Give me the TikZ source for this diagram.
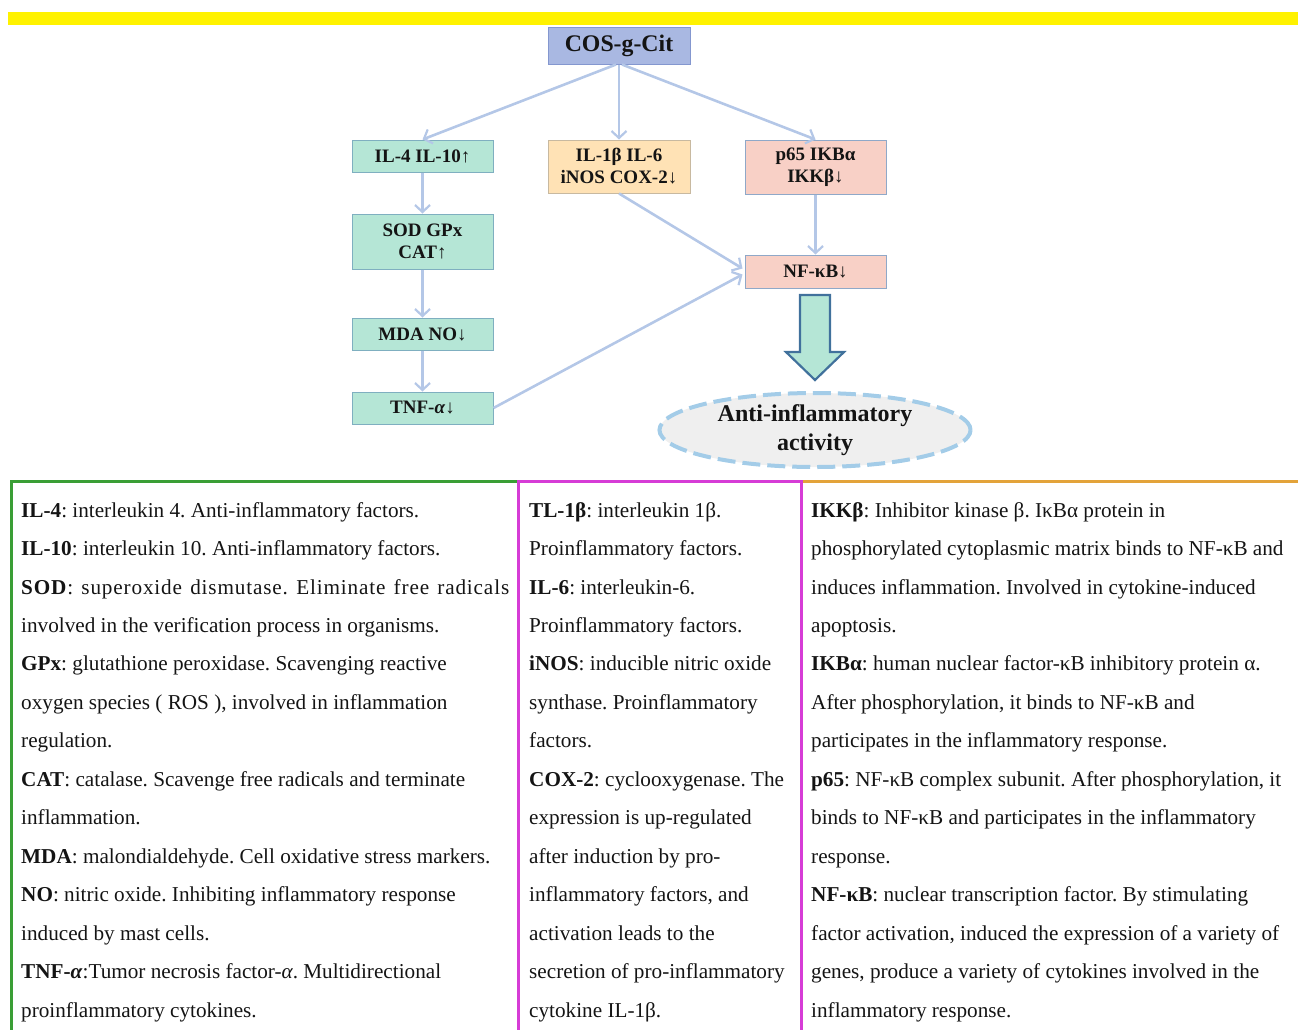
\documentclass[tikz,border=0pt]{standalone}
\usepackage{fontspec}
\setmainfont{Liberation Serif}
\usetikzlibrary{arrows.meta,shapes.geometric,calc}
\definecolor{arrowblue}{HTML}{B4C7E7}
\definecolor{cosfill}{HTML}{A9B8E2}
\definecolor{cosdraw}{HTML}{8497CF}
\definecolor{mint}{HTML}{B5E6D6}
\definecolor{mintdraw}{HTML}{7FAFC0}
\definecolor{peach}{HTML}{FFE2B5}
\definecolor{peachdraw}{HTML}{C8B9A0}
\definecolor{pinkfill}{HTML}{F8D0C6}
\definecolor{pinkdraw}{HTML}{8FA8C8}
\definecolor{bigarrowdraw}{HTML}{41719C}
\definecolor{ellfill}{HTML}{EFEFEF}
\definecolor{elldraw}{HTML}{A3CCE8}
\definecolor{pgreen}{HTML}{3A9E35}
\definecolor{pmagenta}{HTML}{D63CD6}
\definecolor{porange}{HTML}{E3A33A}
\definecolor{ink}{HTML}{141414}
\frenchspacing
\begin{document}
\begin{tikzpicture}[x=1pt,y=-1pt,
  boxbase/.style={draw, line width=1pt, inner sep=0pt, align=center,
     font=\fontsize{19}{22}\selectfont\bfseries, text=ink},
  greenbox/.style={boxbase, fill=mint, draw=mintdraw, minimum width=141pt},
  link/.style={draw=arrowblue, line width=2.6pt, -{Straight Barb[length=7pt,width=15pt,line width=2.2pt]}},
  txt/.style={anchor=base west, inner sep=0pt, font=\fontsize{21.2}{24}\selectfont, text=ink},
  panel/.style={line width=3pt}
]
\useasboundingbox (0,0) rectangle (1298,1029);
% yellow bar
\fill[yellow] (8,12) rectangle (1298,25);

% boxes
\node[boxbase, fill=cosfill, draw=cosdraw, minimum width=142pt, minimum height=37pt,
      font=\fontsize{23.8}{26}\selectfont\bfseries] (cos) at (619,45.5) {COS-g-Cit};
\node[greenbox, minimum height=32pt] (il4) at (422.5,156) {IL-4 IL-10↑};
\node[boxbase, fill=peach, draw=peachdraw, minimum width=142pt, minimum height=53pt] (il1) at (619,166.5) {IL-1β IL-6\\iNOS COX-2↓};
\node[boxbase, fill=pinkfill, draw=pinkdraw, minimum width=141pt, minimum height=54pt] (p65) at (815.5,167) {p65 IKBα\\IKKβ↓};
\node[greenbox, minimum height=55pt] (sod) at (422.5,241.5) {SOD GPx\\CAT↑};
\node[greenbox, minimum height=32pt] (mda) at (422.5,334) {MDA NO↓};
\node[greenbox, minimum height=32pt] (tnf) at (422.5,408) {TNF-\textit{α}↓};
\node[boxbase, fill=pinkfill, draw=pinkdraw, minimum width=141pt, minimum height=33pt] (nfkb) at (815.5,271.5) {NF-κB↓};

% connectors
\coordinate (cosL) at ($(cos.south)+(-3,0)$);
\coordinate (cosR) at ($(cos.south)+(3,0)$);
\draw[link] (cosL) -- (il4.north);
\draw[link] (cos.south) -- (il1.north);
\draw[link] (cosR) -- (p65.north);
\draw[link] (il4.south) -- (sod.north);
\draw[link] (sod.south) -- (mda.north);
\draw[link] (mda.south) -- (tnf.north);
\draw[link] (p65.south) -- (nfkb.north);
\coordinate (nfin1) at ($(nfkb.west)+(-2,-3)$);
\coordinate (nfin2) at ($(nfkb.west)+(-2,3)$);
\draw[link] (il1.south) -- (nfin1);
\draw[link] (tnf.east) -- (nfin2);

% big arrow
\coordinate (bat) at (815,380);
\draw[fill=mint, draw=bigarrowdraw, line width=2.2pt, line join=miter]
  (800,295) -- (830,295) -- (830,352) -- (844,352) -- (bat) -- (786,352) -- (800,352) -- cycle;

% ellipse
\node[ellipse, fill=ellfill, draw=elldraw, line width=4pt, dash pattern=on 18pt off 7pt,
      minimum width=308pt, minimum height=74pt, inner sep=0pt, align=center,
      font=\fontsize{24}{29}\selectfont\bfseries, text=ink] (act) at (815,430) {\raisebox{-3pt}{\parbox{220pt}{\centering Anti-inflammatory\\activity}}};

% panels
\draw[panel, pgreen] (11,1031) -- (11,481) -- (518,481);
\draw[panel, porange] (801,481) -- (1298,481);
\draw[panel, pmagenta] (518,1031) -- (518,481) -- (801,481) -- (801,1031);

% column 1
\node[txt] (a1) at (21,517) {\textbf{IL-4}: interleukin 4. Anti-inflammatory factors.};
\node[txt] (a2) at (21,555.5) {\textbf{IL-10}: interleukin 10. Anti-inflammatory factors.};
\node[txt] (a3) at (21,594) {\makebox[488pt][s]{\addfontfeatures{LetterSpace=4}\textbf{SOD}: superoxide dismutase. Eliminate free radicals}};
\node[txt] (a4) at (21,632.4) {involved in the verification process in organisms.};
\node[txt] (a5) at (21,670.8) {\textbf{GPx}: glutathione peroxidase. Scavenging reactive};
\node[txt] (a6) at (21,709.3) {oxygen species ( ROS ), involved in inflammation};
\node[txt] (a7) at (21,747.8) {regulation.};
\node[txt] (a8) at (21,786.2) {\textbf{CAT}: catalase. Scavenge free radicals and terminate};
\node[txt] (a9) at (21,824.7) {inflammation.};
\node[txt] (a10) at (21,863.1) {\textbf{MDA}: malondialdehyde. Cell oxidative stress markers.};
\node[txt] (a11) at (21,901.6) {\textbf{NO}: nitric oxide. Inhibiting inflammatory response};
\node[txt] (a12) at (21,940) {induced by mast cells.};
\node[txt] (a13) at (21,978.5) {\textbf{TNF-\textit{α}}:Tumor necrosis factor-\textit{α}. Multidirectional};
\node[txt] (a14) at (21,1017) {proinflammatory cytokines.};

% column 2
\node[txt] (b1) at (529,517) {\textbf{TL-1β}: interleukin 1β.};
\node[txt] (b2) at (529,555.5) {Proinflammatory factors.};
\node[txt] (b3) at (529,594) {\textbf{IL-6}: interleukin-6.};
\node[txt] (b4) at (529,632.4) {Proinflammatory factors.};
\node[txt] (b5) at (529,670.8) {\textbf{iNOS}: inducible nitric oxide};
\node[txt] (b6) at (529,709.3) {synthase. Proinflammatory};
\node[txt] (b7) at (529,747.8) {factors.};
\node[txt] (b8) at (529,786.2) {\textbf{COX-2}: cyclooxygenase. The};
\node[txt] (b9) at (529,824.7) {expression is up-regulated};
\node[txt] (b10) at (529,863.1) {after induction by pro-};
\node[txt] (b11) at (529,901.6) {inflammatory factors, and};
\node[txt] (b12) at (529,940) {activation leads to the};
\node[txt] (b13) at (529,978.5) {secretion of pro-inflammatory};
\node[txt] (b14) at (529,1017) {cytokine IL-1β.};

% column 3
\node[txt] (c1) at (811,517) {\textbf{IKKβ}: Inhibitor kinase β. IκBα protein in};
\node[txt] (c2) at (811,555.5) {phosphorylated cytoplasmic matrix binds to NF-κB and};
\node[txt] (c3) at (811,594) {induces inflammation. Involved in cytokine-induced};
\node[txt] (c4) at (811,632.4) {apoptosis.};
\node[txt] (c5) at (811,670.8) {\textbf{IKBα}: human nuclear factor-κB inhibitory protein α.};
\node[txt] (c6) at (811,709.3) {After phosphorylation, it binds to NF-κB and};
\node[txt] (c7) at (811,747.8) {participates in the inflammatory response.};
\node[txt] (c8) at (811,786.2) {\textbf{p65}: NF-κB complex subunit. After phosphorylation, it};
\node[txt] (c9) at (811,824.7) {binds to NF-κB and participates in the inflammatory};
\node[txt] (c10) at (811,863.1) {response.};
\node[txt] (c11) at (811,901.6) {\textbf{NF-κB}: nuclear transcription factor. By stimulating};
\node[txt] (c12) at (811,940) {factor activation, induced the expression of a variety of};
\node[txt] (c13) at (811,978.5) {genes, produce a variety of cytokines involved in the};
\node[txt] (c14) at (811,1017) {inflammatory response.};
\end{tikzpicture}
\end{document}
